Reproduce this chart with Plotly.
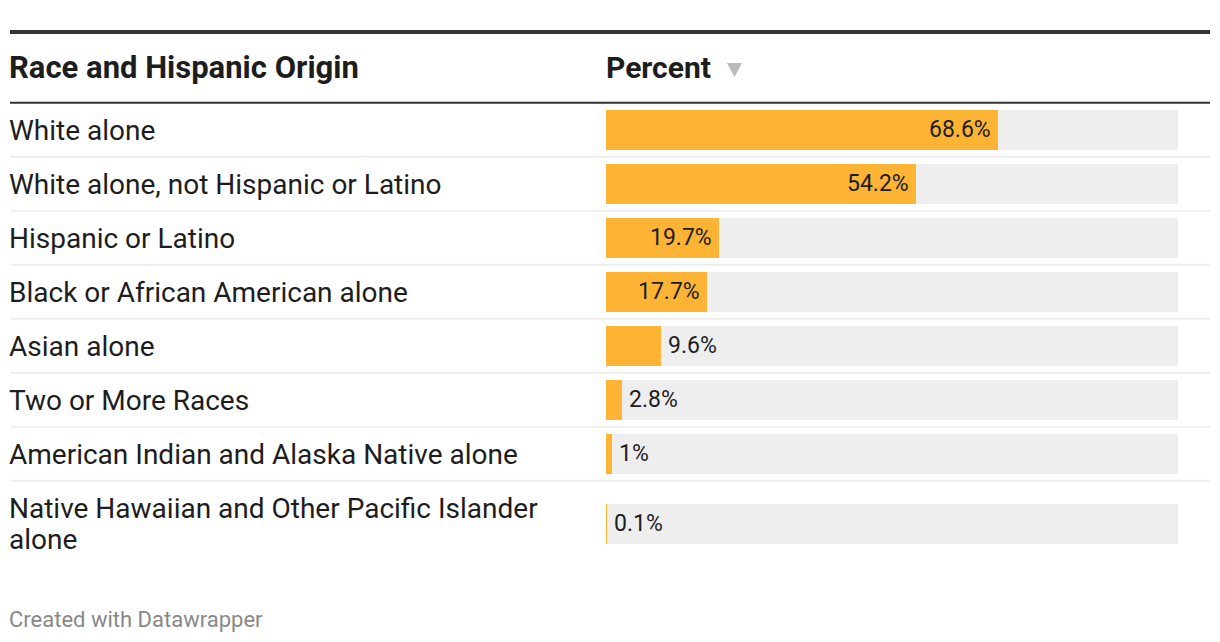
import plotly.graph_objects as go

# ---- data ----
categories = [
    "White alone",
    "White alone, not Hispanic or Latino",
    "Hispanic or Latino",
    "Black or African American alone",
    "Asian alone",
    "Two or More Races",
    "American Indian and Alaska Native alone",
    "Native Hawaiian and Other Pacific Islander<br>alone",
]
percent = [68.6, 54.2, 19.7, 17.7, 9.6, 2.8, 1.0, 0.1]
value_labels = ["68.6%", "54.2%", "19.7%", "17.7%", "9.6%", "2.8%", "1%", "0.1%"]
scale_max = 100
col_title_left = "Race and Hispanic Origin"
col_title_right = "Percent"
footer = "Created with Datawrapper"

# ---- layout parameters (pixels) ----
W, H = 1220, 642
left_px = 10
right_px = 1210
bar_x0, bar_x1 = 606, 1178
header_line_y = 102.7
row_heights = [54, 54, 54, 54, 54, 54, 54, 86]
bar_h = 40
line_gap = 31
FONT = "Roboto"
TXT = "#1d1d1d"
ORANGE = "#fdb334"
GREY = "#eeeeee"

# row centres computed from row heights
centers = []
y = header_line_y + 1
for h in row_heights:
    centers.append(y + (h - 2) / 2)
    y += h
sep_lines = []
y = header_line_y + 1
for h in row_heights[:-1]:
    y += h
    sep_lines.append(y - 1)

fig = go.Figure()
fig.add_trace(go.Bar(
    x=[scale_max] * len(categories), y=centers, orientation="h", width=bar_h,
    marker=dict(color=GREY, line=dict(width=0)), hoverinfo="skip", showlegend=False,
))
fig.add_trace(go.Bar(
    x=percent, y=centers, orientation="h", width=bar_h,
    marker=dict(color=ORANGE, line=dict(width=0)), hoverinfo="skip", showlegend=False,
))

annotations = []
for cat, c in zip(categories, centers):
    lines = cat.split("<br>")
    n = len(lines)
    for i, ln in enumerate(lines):
        annotations.append(dict(
            x=left_px / W, xref="paper", y=c + 0.5 + (i - (n - 1) / 2) * line_gap, yref="y",
            text=ln, showarrow=False, xanchor="left", yanchor="middle", align="left",
            xshift=-3, font=dict(family=FONT, size=28, color=TXT),
        ))
for v, lab, c in zip(percent, value_labels, centers):
    inside = v >= 15
    annotations.append(dict(
        x=v, xref="x", y=c, yref="y", text=lab, showarrow=False,
        xanchor="right" if inside else "left", yanchor="middle",
        xshift=-5 if inside else 5,
        font=dict(family=FONT, size=23, color=TXT),
    ))
annotations += [
    dict(x=left_px / W, xref="paper", y=67.5, yref="y", text="<b>%s</b>" % col_title_left,
         showarrow=False, xanchor="left", yanchor="middle", xshift=-3,
         font=dict(family=FONT, size=31, color=TXT)),
    dict(x=bar_x0 / W, xref="paper", y=67.5, yref="y", text="<b>%s</b>" % col_title_right,
         showarrow=False, xanchor="left", yanchor="middle", xshift=-2,
         font=dict(family=FONT, size=30, color=TXT)),
    dict(x=left_px / W, xref="paper", y=619, yref="y", text=footer,
         showarrow=False, xanchor="left", yanchor="middle", xshift=-3,
         font=dict(family=FONT, size=22, color="#888888")),
]

shapes = [
    dict(type="line", xref="paper", yref="y", x0=left_px / W, x1=right_px / W,
         y0=32, y1=32, line=dict(color="#333333", width=4)),
    dict(type="line", xref="paper", yref="y", x0=left_px / W, x1=right_px / W,
         y0=header_line_y, y1=header_line_y, line=dict(color="#333333", width=2)),
    # sort indicator triangle
    dict(type="path", xref="paper", yref="y",
         path="M %f,63 L %f,63 L %f,77 Z" % (727 / W, 742 / W, 734.5 / W),
         fillcolor="#bbbbbb", line=dict(width=0)),
]
for ly in sep_lines:
    shapes.append(dict(type="line", xref="paper", yref="y", x0=left_px / W, x1=right_px / W,
                       y0=ly, y1=ly, line=dict(color="#eeeeee", width=2)))

fig.update_layout(
    width=W, height=H, margin=dict(l=0, r=0, t=0, b=0),
    paper_bgcolor="white", plot_bgcolor="white",
    barmode="overlay", bargap=0,
    xaxis=dict(domain=[bar_x0 / W, bar_x1 / W], range=[0, scale_max], visible=False,
               fixedrange=True),
    yaxis=dict(domain=[0, 1], range=[H, 0], visible=False, fixedrange=True),
    annotations=annotations, shapes=shapes,
    font=dict(family=FONT),
)
fig.write_html("out.html", config={"displayModeBar": False},
               post_script="document.body.style.margin='0';document.body.style.overflow='hidden';")
